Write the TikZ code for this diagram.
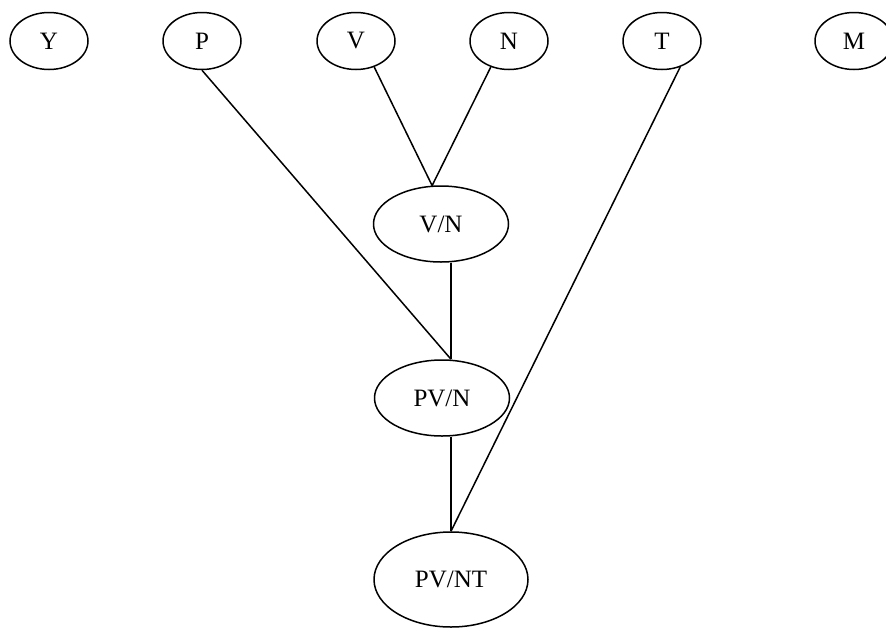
\documentclass[tikz,border=0pt]{standalone}
\usepackage{fontspec}
\setmainfont{Liberation Serif}
\usetikzlibrary{shapes.geometric}
\begin{document}
\begin{tikzpicture}[x=1pt,y=-1pt,
  every node/.style={font=\fontsize{25}{30}\selectfont},
  small/.style={ellipse,draw,line width=1.5pt,inner sep=0pt,minimum width=78pt,minimum height=57pt},
  mid/.style={ellipse,draw,line width=1.5pt,inner sep=0pt,minimum width=135pt,minimum height=76pt},
  big/.style={ellipse,draw,line width=1.5pt,inner sep=0pt,minimum width=154pt,minimum height=95pt},
  link/.style={line width=1.5pt}]
\useasboundingbox (0,0) rectangle (886,627);
\node[small] (Y) at (49,41) {Y};
\node[small] (P) at (202,41) {P};
\node[small] (V) at (356,41) {V};
\node[small] (N) at (509,41) {N};
\node[small] (T) at (662,41) {T};
\node[small] (M) at (854,41) {M};
\node[mid] (VN) at (441,224) {V/N};
\node[mid] (PVN) at (442,398) {PV/N};
\node[big] (PVNT) at (451,579.5) {PV/NT};
\coordinate (vnb) at (VN.south -| PVNT.north);
\coordinate (pvnt) at (PVN.north -| PVNT.north);
\coordinate (pvnb) at (PVN.south -| PVNT.north);
\draw[link] (V.-55) -- (VN.103);
\draw[link] (N.-125) -- (VN.103);
\draw[link] (P.south) -- (pvnt);
\draw[link] (vnb) -- (pvnt);
\draw[link] (pvnb) -- (PVNT.north);
\draw[link] (T.-55) -- (PVNT.north);
\end{tikzpicture}
\end{document}
